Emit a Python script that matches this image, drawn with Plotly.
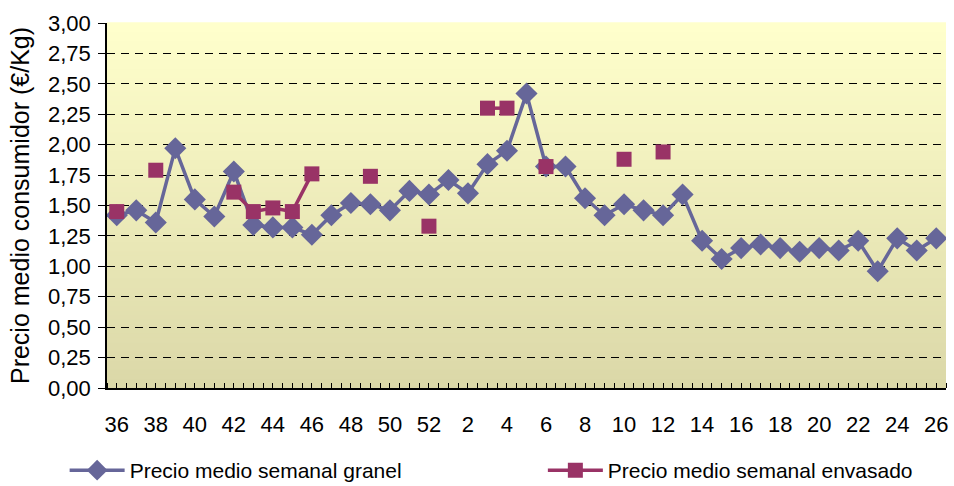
import plotly.graph_objects as go

weeks = [36, 37, 38, 39, 40, 41, 42, 43, 44, 45, 46, 47, 48, 49, 50, 51, 52,
         1, 2, 3, 4, 5, 6, 7, 8, 9, 10, 11, 12, 13, 14, 15, 16, 17, 18, 19, 20,
         21, 22, 23, 24, 25, 26]

granel = [1.42, 1.46, 1.36, 1.97, 1.55, 1.41, 1.78, 1.34, 1.32, 1.32, 1.26,
          1.42, 1.52, 1.51, 1.46, 1.62, 1.59, 1.71, 1.60, 1.84, 1.95, 2.42,
          1.82, 1.82, 1.56, 1.42, 1.51, 1.46, 1.42, 1.59, 1.21, 1.06, 1.15,
          1.18, 1.15, 1.12, 1.15, 1.13, 1.21, 0.96, 1.23, 1.13, 1.23]

envasado = [1.45, None, 1.79, None, None, None, 1.61, 1.45, 1.48, 1.45, 1.76,
            None, None, 1.74, None, None, 1.33, None, None, 2.30, 2.30, None,
            1.82, None, None, None, 1.88, None, 1.94, None, None, None, None,
            None, None, None, None, None, None, None, None, None, None]

y_ticks = [0, 0.25, 0.5, 0.75, 1.0, 1.25, 1.5, 1.75, 2.0, 2.25, 2.5, 2.75, 3.0]

name_granel = "Precio medio semanal granel"
name_envasado = "Precio medio semanal envasado"
y_title = "Precio medio consumidor (€/Kg)"

x_idx = list(range(len(weeks)))
tick_idx = [i for i, w in enumerate(weeks) if w % 2 == 0]
tick_txt = [str(weeks[i]) for i in tick_idx]

FONT = "Liberation Sans, Arial, sans-serif"

fig = go.Figure()
fig.add_trace(go.Scatter(
    x=x_idx, y=granel, name=name_granel, mode="lines+markers",
    line=dict(color="#666699", width=3.5),
    marker=dict(symbol="diamond", size=17, color="#666699"),
    legend="legend",
))
fig.add_trace(go.Scatter(
    x=x_idx, y=envasado, name=name_envasado, mode="lines+markers",
    line=dict(color="#993366", width=3.5),
    marker=dict(symbol="square", size=15, color="#993366"),
    connectgaps=False,
    legend="legend2",
))

# gradient background via stacked bands
top = (255, 255, 204)
bot = (219, 216, 168)
n = 80
shapes = []
for i in range(n):
    t = i / (n - 1)
    c = tuple(round(bot[k] + (top[k] - bot[k]) * t) for k in range(3))
    shapes.append(dict(type="rect", xref="x domain", yref="y domain",
                       x0=0, x1=1, y0=i / n, y1=(i + 1) / n + 0.002,
                       fillcolor="rgb(%d,%d,%d)" % c, line=dict(width=0),
                       layer="below"))

leg_common = dict(orientation="h", xanchor="left", y=-0.17, yanchor="top",
                  font=dict(size=21, family=FONT), itemwidth=55,
                  bgcolor="rgba(0,0,0,0)")

fig.update_layout(
    width=954, height=486,
    margin=dict(l=107, r=8, t=23, b=98, autoexpand=False),
    paper_bgcolor="white",
    plot_bgcolor="rgba(0,0,0,0)",
    separators=",.",
    shapes=shapes,
    font=dict(family=FONT, color="black", size=20),
    showlegend=True,
    legend=dict(x=-0.0505, **leg_common),
    legend2=dict(x=0.5195, **leg_common),
)

fig.update_xaxes(
    automargin=False,
    range=[-0.5, len(weeks) - 0.5],
    tickmode="array", tickvals=tick_idx, ticktext=tick_txt,
    ticks="", showgrid=False, zeroline=False,
    showline=True, linecolor="black", linewidth=1.5,
    tickfont=dict(size=22, family=FONT),
    ticklabelstandoff=16,
    minor=dict(ticks="inside", dtick=0.5, tick0=-0.5, ticklen=5,
               tickcolor="black", tickwidth=1, showgrid=False),
)
fig.update_yaxes(
    automargin=False,
    range=[0, 3.0],
    tickmode="array", tickvals=y_ticks, tickformat=".2f",
    ticks="outside", ticklen=7, tickcolor="black", tickwidth=1,
    showgrid=True, gridcolor="black", gridwidth=1, griddash="8px,6px",
    zeroline=False, showline=True, linecolor="black", linewidth=1.5,
    tickfont=dict(size=22, family=FONT),
    ticklabelstandoff=3,
    title=dict(text=y_title, font=dict(size=25, family=FONT), standoff=11),
)

fig.write_html("out.html",
               config={"displayModeBar": False},
               post_script="document.body.style.margin='0';document.body.style.overflow='hidden';")
